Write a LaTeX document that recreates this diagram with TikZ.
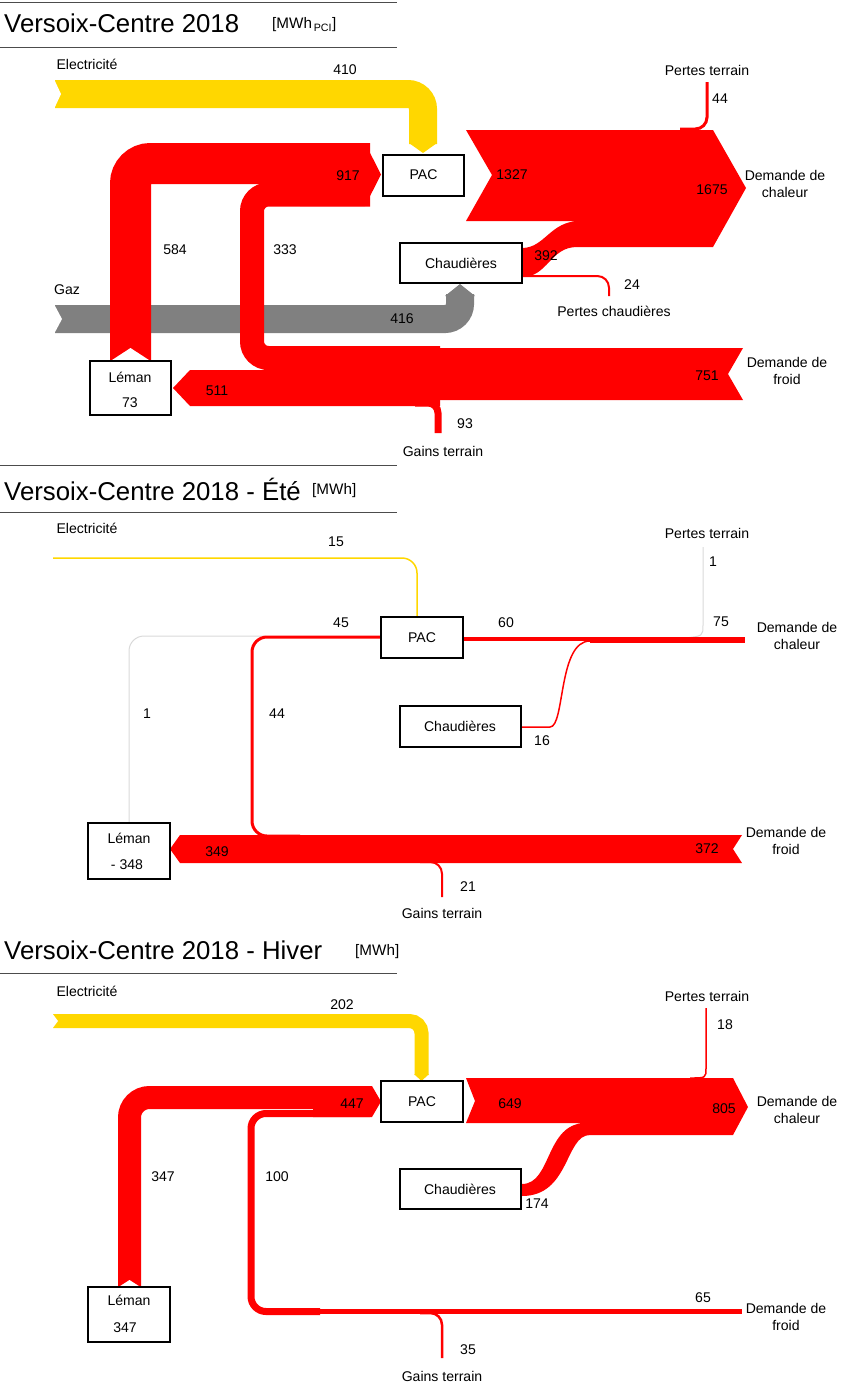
\documentclass[tikz,border=0pt]{standalone}
\usepackage{fontspec}
\setmainfont{Liberation Sans}
\definecolor{rd}{HTML}{FF0000}
\definecolor{yl}{HTML}{FFD700}
\definecolor{gz}{HTML}{808080}
\begin{document}
\begin{tikzpicture}[x=0.03cm,y=-0.03cm,
  lbl/.style={font=\fontsize{12}{14}\selectfont,inner sep=0pt,align=center},
  ttl/.style={font=\fontsize{22}{24}\selectfont,inner sep=0pt,anchor=west},
  unit/.style={font=\fontsize{13}{15}\selectfont,inner sep=0pt,anchor=west},
  box/.style={draw=black,line width=0.06cm,fill=white,inner sep=0pt},
  band/.style={line width=#1*0.03cm},
  rule/.style={draw=black!70,line width=0.8pt}]
\useasboundingbox (0,0) rectangle (857,1390);
% ================= Panel 1 =================
\draw[rule] (0,2) -- (397,2); \draw[rule] (0,47) -- (397,47);
\node[ttl] (t1) at (4,23) {Versoix-Centre 2018};
\node[unit] (u1) at (272,25) {[MWh\textsubscript{\,PCI}]};
% gas
\draw[gz,band=28,rounded corners=0.45cm] (55,319) -- (460,319) -- (460,294);
\fill[gz] (445,296) -- (460,284) -- (475,296) -- cycle;
\fill[white] (54,304) -- (62,319) -- (54,334) -- cycle;
% electricity
\draw[yl,band=28,rounded corners=0.45cm] (55,94) -- (423,94) -- (423,144);
\fill[yl] (409,143) -- (437,143) -- (423,153) -- cycle;
\fill[white] (54,79) -- (61,94) -- (54,109) -- cycle;
% Leman -> PAC
\draw[rd,band=41,rounded corners=0.6cm] (130.5,361) -- (130.5,163.5) -- (370,163.5);
\fill[white] (109,362) -- (130.5,348) -- (152,362) -- cycle;
\draw[rd,band=24,rounded corners=0.5cm] (370,194.5) -- (252,194.5) -- (252,358) -- (440,358);
\fill[rd] (300,143) -- (365,143) -- (381,174.5) -- (365,206) -- (300,206) -- cycle;
% froid
\fill[rd] (264,348) -- (743,348) -- (728,374) -- (743,400) -- (264,400) -- cycle;
\fill[rd] (173,388) -- (190,370) -- (440,370) -- (440,406) -- (190,406) -- cycle;
\draw[rd,band=7,rounded corners=0.3cm] (438,433) -- (438,403) -- (415,403);
% chaleur
\fill[rd] (466,130) -- (713,130) -- (746,188) -- (713,247) -- (577,247)
  .. controls (550,247) and (548,277) .. (522,277) -- (522,248)
  .. controls (545,248) and (550,221) .. (580,221) -- (466,221) -- (492,175) -- cycle;
\draw[rd,line width=0.09cm,rounded corners=0.35cm] (707,82) -- (707,129) -- (680,129);
\draw[rd,line width=0.06cm,rounded corners=0.35cm] (522,276) -- (609,276) -- (609,296);
% boxes
\node[box,minimum width=81*0.03cm,minimum height=41*0.03cm] (pac1) at (423.5,175) {};
\node[lbl] (pac1t) at (pac1) {PAC};
\node[box,minimum width=122*0.03cm,minimum height=40*0.03cm] (ch1) at (461,263) {};
\node[lbl] (ch1t) at (ch1) {Chaudières};
\node[box,minimum width=81*0.03cm,minimum height=54*0.03cm] (le1) at (130.5,388) {};
\node[lbl] (le1a) at (130,377) {Léman};
\node[lbl] (le1b) at (130,403) {73};
% labels
\node[lbl] (a1) at (87,64) {Electricité};
\node[lbl] (a2) at (345,70) {410};
\node[lbl] (a3) at (348,176) {917};
\node[lbl] (a4) at (512,175) {1327};
\node[lbl] (a5) at (712,190) {1675};
\node[lbl] (a6) at (785,184) {Demande de\\chaleur};
\node[lbl] (a7) at (175,250) {584};
\node[lbl] (a8) at (285,250) {333};
\node[lbl] (a9) at (546,256) {392};
\node[lbl] (a10) at (632,285) {24};
\node[lbl] (a11) at (614,311) {Pertes chaudières};
\node[lbl] (a12) at (67,290) {Gaz};
\node[lbl] (a13) at (402,319) {416};
\node[lbl] (a14) at (707,376) {751};
\node[lbl] (a15) at (787,371) {Demande de\\froid};
\node[lbl] (a16) at (217,391) {511};
\node[lbl] (a17) at (465,424) {93};
\node[lbl] (a18) at (443,451) {Gains terrain};
\node[lbl] (a19) at (707,70) {Pertes terrain};
\node[lbl] (a20) at (720,99) {44};
% ================= Panel 2 =================
\draw[rule] (0,465) -- (397,465); \draw[rule] (0,512) -- (397,512);
\node[ttl] (t2) at (4,489) {Versoix-Centre 2018 - Été};
\node[unit] (u2) at (312,491) {[MWh]};
\draw[yl,line width=0.045cm,rounded corners=0.45cm] (53,558) -- (417,558) -- (417,617);
\draw[black!15,line width=0.03cm,rounded corners=0.45cm] (129,823) -- (129,636) -- (265,636);
\draw[rd,line width=0.09cm,rounded corners=0.45cm] (381,637) -- (252,637) -- (252,836) -- (300,836);
\draw[black!15,line width=0.03cm] (703,547) -- (703,625) .. controls (703,636) .. (685,638);
\draw[rd,line width=0.12cm] (463,639) -- (745,639);
\draw[rd,line width=0.15cm] (590,640) -- (745,640);
\draw[rd,line width=0.045cm] (520,727) -- (550,727) .. controls (565,727) and (558,641) .. (590,641);
\fill[rd] (170,849) -- (180,835) -- (742,835) -- (733,849) -- (742,863) -- (180,863) -- cycle;
\draw[rd,line width=0.06cm,rounded corners=0.35cm] (442,897) -- (442,862) -- (420,862);
\node[box,minimum width=82*0.03cm,minimum height=41*0.03cm] (pac2) at (422,637.5) {};
\node[lbl] (pac2t) at (pac2) {PAC};
\node[box,minimum width=121*0.03cm,minimum height=41*0.03cm] (ch2) at (460,726.5) {};
\node[lbl] (ch2t) at (ch2) {Chaudières};
\node[box,minimum width=82*0.03cm,minimum height=56*0.03cm] (le2) at (129,851) {};
\node[lbl] (le2a) at (129,838) {Léman};
\node[lbl] (le2b) at (127,865) {- 348};
\node[lbl] (b1) at (87,528) {Electricité};
\node[lbl] (b2) at (336,542) {15};
\node[lbl] (b3) at (341,623) {45};
\node[lbl] (b4) at (506,623) {60};
\node[lbl] (b5) at (721,622) {75};
\node[lbl] (b6) at (797,636) {Demande de\\chaleur};
\node[lbl] (b7) at (707,533) {Pertes terrain};
\node[lbl] (b8) at (713,562) {1};
\node[lbl] (b9) at (147,714) {1};
\node[lbl] (b10) at (277,714) {44};
\node[lbl] (b11) at (542,741) {16};
\node[lbl] (b12) at (217,852) {349};
\node[lbl] (b13) at (707,849) {372};
\node[lbl] (b14) at (786,841) {Demande de\\froid};
\node[lbl] (b15) at (468,887) {21};
\node[lbl] (b16) at (442,913) {Gains terrain};
% ================= Panel 3 =================
\draw[rule] (0,973) -- (397,973);
\node[ttl] (t3) at (4,950) {Versoix-Centre 2018 - Hiver};
\node[unit] (u3) at (355,952) {[MWh]};
\draw[yl,band=14,rounded corners=0.36cm] (53,1021) -- (421.5,1021) -- (421.5,1075);
\fill[yl] (414,1074) -- (429,1074) -- (421.5,1081) -- cycle;
\fill[white] (52,1013) -- (58,1021) -- (52,1029) -- cycle;
\draw[rd,band=23,rounded corners=0.6cm] (129.5,1287) -- (129.5,1097.5) -- (370,1097.5);
\fill[white] (117,1288) -- (129.5,1280) -- (142,1288) -- cycle;
\fill[rd] (313,1086) -- (372,1086) -- (381,1101.5) -- (372,1117) -- (313,1117) -- cycle;
\draw[rd,band=7,rounded corners=0.45cm] (370,1113.5) -- (251,1113.5) -- (251,1311.5) -- (320,1311.5);
\draw[rd,band=5] (300,1311.5) -- (742,1311.5);
\draw[rd,line width=0.075cm,rounded corners=0.35cm] (442,1358) -- (442,1313) -- (420,1313);
\fill[rd] (466,1078) -- (733,1078) -- (748,1107) -- (733,1135) -- (590,1135)
  .. controls (565,1135) and (570,1196) .. (522,1196) -- (522,1184)
  .. controls (552,1184) and (545,1123) .. (586,1123) -- (466,1123) -- (475,1101) -- cycle;
\draw[rd,line width=0.045cm] (706,1008) -- (706,1068) .. controls (706,1078) .. (690,1078);
\node[box,minimum width=82*0.03cm,minimum height=41*0.03cm] (pac3) at (422,1101.5) {};
\node[lbl] (pac3t) at (pac3) {PAC};
\node[box,minimum width=121*0.03cm,minimum height=40*0.03cm] (ch3) at (460,1189) {};
\node[lbl] (ch3t) at (ch3) {Chaudières};
\node[box,minimum width=82*0.03cm,minimum height=55*0.03cm] (le3) at (129,1314.5) {};
\node[lbl] (le3a) at (129,1300) {Léman};
\node[lbl] (le3b) at (125,1328) {347};
\node[lbl] (c1) at (87,991) {Electricité};
\node[lbl] (c2) at (342,1005) {202};
\node[lbl] (c3) at (352,1104) {447};
\node[lbl] (c4) at (510,1104) {649};
\node[lbl] (c5) at (724,1109) {805};
\node[lbl] (c6) at (797,1110) {Demande de\\chaleur};
\node[lbl] (c7) at (707,996) {Pertes terrain};
\node[lbl] (c8) at (725,1025) {18};
\node[lbl] (c9) at (163,1177) {347};
\node[lbl] (c10) at (277,1177) {100};
\node[lbl] (c11) at (537,1204) {174};
\node[lbl] (c12) at (703,1298) {65};
\node[lbl] (c13) at (786,1317) {Demande de\\froid};
\node[lbl] (c14) at (468,1350) {35};
\node[lbl] (c15) at (442,1376) {Gains terrain};
\end{tikzpicture}
\end{document}
